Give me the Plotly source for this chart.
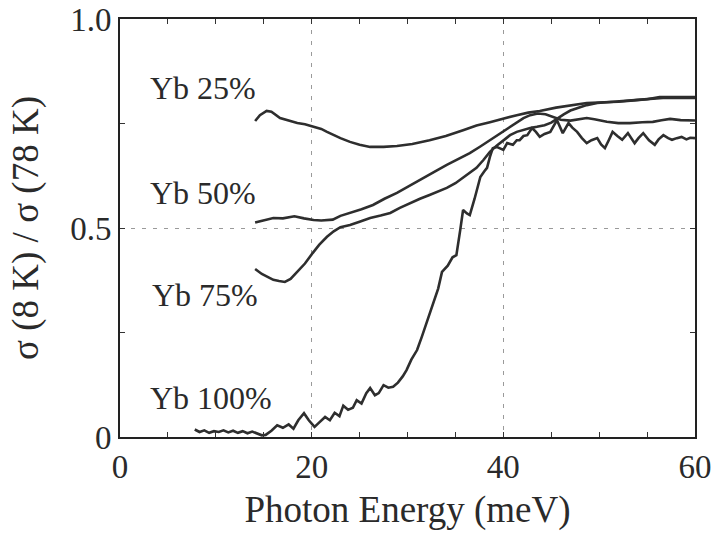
import plotly.graph_objects as go

# ---------------- data ----------------
x25 = [14.1, 14.6, 15.3, 15.8, 16.7, 17.5, 18.5, 19.3, 20.0, 21.0, 21.6, 22.3, 23.0, 24.0, 25.0, 26.1,
       27.5, 28.9, 30.5, 32.3, 34.0, 35.8, 37.2, 38.6, 40.0, 41.4, 42.6, 43.8, 45.5, 47.0, 48.7, 50.5,
       52.0, 53.9, 55.0, 56.3, 58.0, 60.0]
y25 = [0.756, 0.770, 0.780, 0.778, 0.763, 0.757, 0.751, 0.748, 0.744, 0.737, 0.730, 0.722, 0.715, 0.706,
       0.699, 0.694, 0.694, 0.696, 0.701, 0.710, 0.720, 0.734, 0.745, 0.753, 0.762, 0.770, 0.776, 0.780,
       0.788, 0.794, 0.799, 0.801, 0.802, 0.806, 0.808, 0.813, 0.813, 0.813]

x50 = [14.1, 15.3, 16.0, 17.0, 18.2, 19.2, 20.2, 21.0, 22.2, 23.0, 24.0, 25.2, 26.4, 27.6, 28.9, 30.1,
       31.3, 32.7, 34.1, 35.3, 36.5, 37.6, 38.6, 39.7, 40.7, 41.5, 42.1, 42.8, 43.6, 44.4, 45.2, 46.0,
       47.0, 48.0, 48.7, 49.5, 50.8, 52.0, 53.2, 54.5, 55.6, 56.5, 57.4, 58.5, 60.0]
y50 = [0.513, 0.520, 0.524, 0.523, 0.528, 0.523, 0.519, 0.518, 0.520, 0.529, 0.536, 0.545, 0.555, 0.570,
       0.584, 0.600, 0.615, 0.633, 0.651, 0.665, 0.679, 0.695, 0.710, 0.727, 0.742, 0.755, 0.763, 0.770,
       0.774, 0.772, 0.765, 0.759, 0.757, 0.760, 0.763, 0.760, 0.754, 0.751, 0.751, 0.753, 0.754, 0.758,
       0.761, 0.758, 0.757]

x75 = [14.1, 14.8, 15.5, 16.0, 16.6, 17.2, 17.8, 18.5, 19.3, 20.1, 20.8, 21.6, 22.3, 23.0, 24.0, 25.0,
       26.1, 27.2, 28.2, 29.2, 30.3, 31.3, 32.3, 33.2, 34.1, 35.0, 35.8, 36.5, 37.2, 37.9, 38.6, 39.3,
       40.0, 40.7, 41.4, 42.1, 42.8, 43.5, 44.3, 45.0, 45.6, 46.3, 47.0, 47.8, 48.7, 49.8, 51.0, 52.5,
       54.0, 55.5, 57.0, 58.5, 60.0]
y75 = [0.402, 0.390, 0.382, 0.376, 0.373, 0.371, 0.378, 0.395, 0.415, 0.440, 0.460, 0.479, 0.492, 0.502,
       0.507, 0.515, 0.524, 0.530, 0.536, 0.548, 0.560, 0.570, 0.579, 0.588, 0.596, 0.607, 0.620, 0.632,
       0.644, 0.662, 0.682, 0.697, 0.710, 0.722, 0.730, 0.735, 0.739, 0.742, 0.746, 0.752, 0.762, 0.772,
       0.781, 0.788, 0.794, 0.799, 0.801, 0.803, 0.806, 0.809, 0.812, 0.811, 0.811]

x100 = [7.8, 8.3, 8.8, 9.3, 9.8, 10.3, 10.8, 11.3, 11.8, 12.3, 12.8, 13.3, 13.8, 14.3, 14.8, 15.2, 15.8,
        16.4, 17.0, 17.6, 18.1, 18.6, 19.2, 19.7, 20.3, 20.8, 21.4, 21.9, 22.4, 22.9, 23.3, 23.8, 24.3,
        24.7, 25.2, 25.7, 26.1, 26.6, 27.0, 27.5, 28.0, 28.5, 29.0, 29.5, 29.9, 30.4, 31.0, 31.5, 32.1,
        32.6, 33.2, 33.6, 34.2, 34.7, 35.1, 35.5, 35.8, 36.2, 36.5, 37.0, 37.6, 38.0, 38.3, 38.6, 38.9,
        39.3, 39.7, 40.0, 40.4, 41.0, 41.4, 41.7, 42.1, 42.5, 43.0, 43.4, 43.8, 44.3, 44.9, 45.6, 46.2,
        46.8, 47.2, 47.7, 48.2, 48.7, 49.2, 49.8, 50.2, 50.6, 51.0, 51.4, 51.9, 52.4, 53.0, 53.7, 54.1,
        54.6, 55.2, 55.8, 56.2, 56.7, 57.2, 57.6, 58.1, 58.6, 59.1, 59.5, 60.0]
y100 = [0.018, 0.012, 0.016, 0.010, 0.014, 0.012, 0.016, 0.011, 0.015, 0.010, 0.014, 0.009, 0.013, 0.008,
        0.004, 0.005, 0.015, 0.028, 0.022, 0.030, 0.020, 0.040, 0.057, 0.040, 0.024, 0.035, 0.048, 0.040,
        0.058, 0.050, 0.075, 0.065, 0.070, 0.088, 0.080, 0.105, 0.117, 0.100, 0.105, 0.124, 0.118, 0.120,
        0.130, 0.145, 0.160, 0.185, 0.208, 0.240, 0.280, 0.310, 0.355, 0.395, 0.410, 0.430, 0.435, 0.495,
        0.543, 0.535, 0.531, 0.570, 0.622, 0.635, 0.644, 0.670, 0.691, 0.694, 0.690, 0.687, 0.703, 0.699,
        0.710, 0.710, 0.720, 0.722, 0.739, 0.730, 0.718, 0.725, 0.730, 0.758, 0.727, 0.751, 0.740, 0.730,
        0.715, 0.703, 0.710, 0.715, 0.700, 0.691, 0.710, 0.730, 0.720, 0.711, 0.727, 0.703, 0.715, 0.727,
        0.710, 0.699, 0.712, 0.722, 0.715, 0.711, 0.715, 0.718, 0.712, 0.716, 0.715]

labels = ["Yb 25%", "Yb 50%", "Yb 75%", "Yb 100%"]
label_x = [2.9, 2.9, 3.1, 2.9]
label_y = [0.835, 0.584, 0.34, 0.093]

x_tickvals = [0, 20, 40, 60]
x_ticktext = ["0", "20", "40", "60"]
y_tickvals = [0, 0.5, 1.0]
y_ticktext = ["0", "0.5", "1.0"]

x_title = "Photon Energy (meV)"
y_title = "σ (8 K) / σ (78 K)"

# ---------------- figure ----------------
FONT = "Liberation Serif"
LINE = dict(color="#2e2e2e", width=2.6)

fig = go.Figure()
for xs, ys, name in [(x25, y25, labels[0]), (x50, y50, labels[1]), (x75, y75, labels[2]), (x100, y100, labels[3])]:
    fig.add_trace(go.Scatter(x=xs, y=ys, mode="lines", line=LINE, name=name, showlegend=False))

for t, lx, ly in zip(labels, label_x, label_y):
    fig.add_annotation(x=lx, y=ly, text=t, showarrow=False, xanchor="left", yanchor="middle",
                       font=dict(family=FONT, size=32, color="#2a2a2a"))

axis_common = dict(
    showline=True, linecolor="#222", linewidth=1.6, mirror="ticks",
    ticks="inside", ticklen=5, tickcolor="#333", tickwidth=1.2,
    showgrid=True, gridcolor="#9a9a9a", gridwidth=1, griddash="4px,7px",
    zeroline=False, automargin=False, ticklabeloverflow="allow",
    tickfont=dict(family=FONT, size=33, color="#2a2a2a"),
)

fig.update_xaxes(range=[0, 60], tickvals=x_tickvals, ticktext=x_ticktext,
                 minor=dict(tickvals=[5, 10, 15, 25, 30, 35, 45, 50, 55], ticks="inside", ticklen=5,
                            tickcolor="#333", showgrid=False),
                 title=dict(text=x_title, font=dict(family=FONT, size=37, color="#2a2a2a"), standoff=12),
                 **axis_common)
fig.update_yaxes(range=[0, 1.0], tickvals=y_tickvals, ticktext=y_ticktext,
                 minor=dict(tickvals=[0.25, 0.75], ticks="inside", ticklen=5,
                            tickcolor="#333", showgrid=False),
                 title=dict(text=y_title, font=dict(family=FONT, size=37, color="#2a2a2a"), standoff=20),
                 **axis_common)

fig.update_layout(
    width=711, height=540,
    margin=dict(l=120, r=16, t=19, b=103),
    paper_bgcolor="white", plot_bgcolor="white",
)

fig.write_html("out.html")
